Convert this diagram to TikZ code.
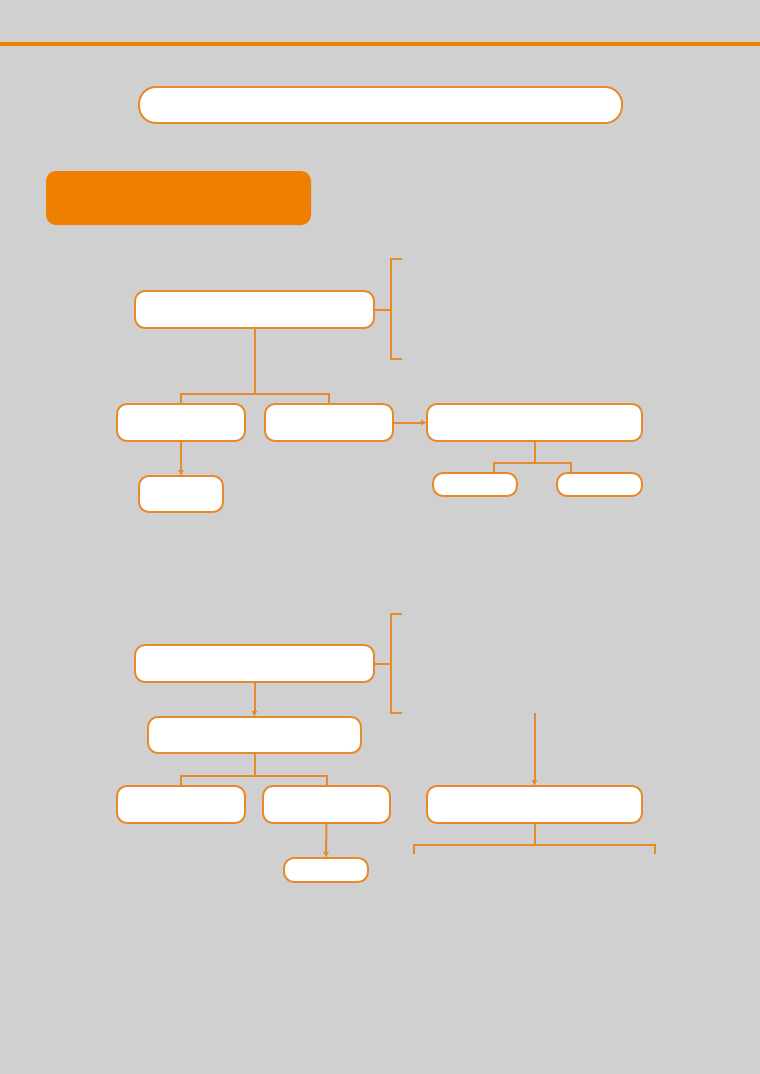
\documentclass[tikz,border=0pt]{standalone}
\usetikzlibrary{arrows.meta}
\definecolor{bg}{HTML}{D0D0D0}
\definecolor{org}{HTML}{EF7F00}
\definecolor{orgline}{HTML}{E8892A}
\tikzset{
  box/.style={draw=orgline, line width=1.9pt, fill=white, rounded corners=10pt, inner sep=0pt, outer sep=0pt},
  conn/.style={draw=orgline, line width=2pt},
  arr/.style={conn, -{Latex[length=6pt,width=6pt]}},
}
\begin{document}
\begin{tikzpicture}[x=1pt,y=-1pt]
\fill[bg] (0,0) rectangle (760,1074);
\useasboundingbox (0,0) rectangle (760,1074);
\coordinate (tl) at (0,44);
\coordinate (tr) at (760,44);
\draw[org, line width=4pt] (tl) -- (tr);
% title pill
\node[box, rounded corners=17pt, minimum width=483pt, minimum height=36pt] (title) at (380.5,105) {};
% orange header
\node[fill=org, rounded corners=10pt, minimum width=265pt, minimum height=54pt, inner sep=0pt] (hdr) at (178.5,198) {};

% ---------- section 1 ----------
\node[box, minimum width=239pt, minimum height=37pt] (A) at (254.5,309.5) {};
\coordinate (b1t) at (402,259);
\coordinate (b1tc) at (391,259);
\coordinate (b1m) at (391,309.5);
\coordinate (b1bc) at (391,359);
\coordinate (b1b) at (402,359);
\draw[conn] (b1t) -- (b1tc) -- (b1bc) -- (b1b);
\draw[conn] (A.east) -- (b1m);

\node[box, minimum width=128pt, minimum height=37pt] (B1) at (181,422.5) {};
\node[box, minimum width=128pt, minimum height=37pt] (B2) at (329,422.5) {};
\node[box, minimum width=84pt, minimum height=36pt] (C) at (181,494) {};
\node[box, minimum width=215pt, minimum height=37pt] (D) at (534.5,422.5) {};
\node[box, minimum width=84pt, minimum height=23pt] (E1) at (475,484.5) {};
\node[box, minimum width=85pt, minimum height=23pt] (E2) at (599.5,484.5) {};

\draw[conn] (A.south) -- ++(0,65.5) -| (B1.north);
\draw[conn] (A.south) ++(0,65.5) -| (B2.north);
\draw[arr] (B1.south) -- (C.north);
\draw[arr] (B2.east) -- (D.west);
\coordinate (e1t) at (494,473);
\coordinate (e2t) at (571,473);
\draw[conn] (D.south) -- ++(0,22) -| (e1t);
\draw[conn] (D.south) ++(0,22) -| (e2t);

% ---------- section 2 ----------
\node[box, minimum width=239pt, minimum height=37pt] (F) at (254.5,663.5) {};
\coordinate (b2t) at (402,614);
\coordinate (b2tc) at (391,614);
\coordinate (b2m) at (391,663.5);
\coordinate (b2bc) at (391,713);
\coordinate (b2b) at (402,713);
\draw[conn] (b2t) -- (b2tc) -- (b2bc) -- (b2b);
\draw[conn] (F.east) -- (b2m);

\node[box, minimum width=213pt, minimum height=36pt] (G) at (254.5,735) {};
\draw[arr] (F.south) -- (G.north);

\node[box, minimum width=128pt, minimum height=37pt] (H1) at (181,804.5) {};
\node[box, minimum width=127pt, minimum height=37pt] (H2) at (326.5,804.5) {};
\draw[conn] (G.south) -- ++(0,23) -| (H1.north);
\draw[conn] (G.south) ++(0,23) -| (H2.north);

\node[box, minimum width=84pt, minimum height=24pt] (I) at (326,870) {};
\draw[arr] (H2.south) -- (I.north);

\node[box, minimum width=215pt, minimum height=37pt] (J) at (534.5,804.5) {};
\coordinate (jin) at (534.5,713);
\draw[arr] (jin) -- (J.north);
\coordinate (jl) at (414,854);
\coordinate (jr) at (655,854);
\draw[conn] (J.south) -- ++(0,22);
\draw[conn] (jl) -- ++(0,-9) -- ++(241,0) -- (jr);
\end{tikzpicture}
\end{document}
